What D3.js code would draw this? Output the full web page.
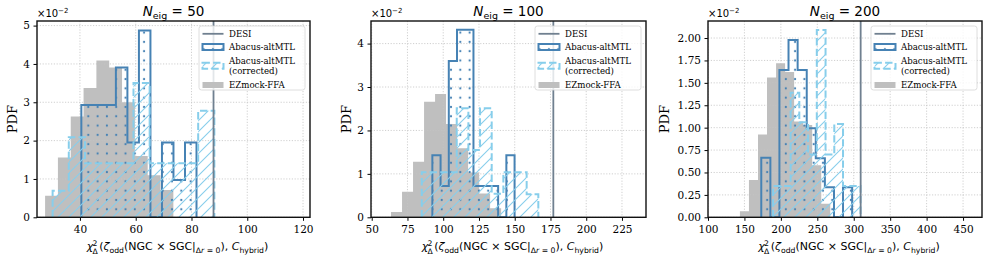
<!DOCTYPE html>
<html>
<head>
<meta charset="utf-8">
<script src="https://cdn.jsdelivr.net/npm/d3@7"></script>
<style>
  body { margin: 0; background: #fff; }
  svg { display: block; }
  text { font-family: "DejaVu Serif", serif; fill: #000; }
</style>
</head>
<body>
<svg id="chart" width="987" height="261"></svg>
<script>
// ---- data (PDF values in units of 1e-2) ----
const titles = ["50", "100", "200"];

const ez1Edges = [27.5, 32.1, 36.7, 41.3, 45.9, 50.5, 55.1, 59.7, 64.3, 68.9, 73.5];
const ez1Pdf = [0.56, 1.56, 2.63, 3.37, 4.09, 3.91, 3.00, 1.60, 1.10, 0.71];
const abacus1Edges = [40.5, 44.63, 48.76, 52.89, 57.02, 61.15, 65.28, 69.41, 73.54, 77.67, 81.8];
const abacus1Pdf = [2.93, 2.93, 2.93, 3.91, 1.95, 4.87, 0, 1.95, 0.97, 1.95];
const corr1Edges = [30.2, 36.0, 41.8, 47.6, 53.4, 59.2, 65.0, 70.8, 76.6, 82.4, 88.2];
const corr1Pdf = [0.69, 2.09, 1.41, 1.41, 1.41, 3.50, 1.41, 1.41, 1.41, 2.78];
const desi1 = 87.9;

const ez2Edges = [63.5, 71.2, 78.9, 86.6, 94.3, 102.0, 109.7, 117.4, 125.1, 132.8, 140.5];
const ez2Pdf = [0.12, 0.59, 1.28, 2.66, 2.84, 2.15, 1.59, 1.03, 0.55, 0.21];
const abacus2Edges = [92.4, 98.15, 103.9, 109.65, 115.4, 121.15, 126.9, 132.65, 138.4, 144.15, 149.9];
const abacus2Pdf = [1.43, 0.72, 3.60, 4.32, 4.32, 0.72, 0.72, 0.72, 0, 1.43];
const corr2Edges = [85.0, 93.15, 101.3, 109.45, 117.6, 125.75, 133.9, 142.05, 150.2, 158.35, 166.5];
const corr2Pdf = [1.04, 1.04, 1.04, 2.51, 1.55, 2.51, 0.54, 1.04, 1.04, 0.53];
const desi2 = 177.0;

const ez3Edges = [143.8, 156.2, 168.6, 181.0, 193.4, 205.8, 218.2, 230.6, 243.0, 255.4, 267.8];
const ez3Pdf = [0.067, 0.416, 0.925, 1.56, 1.72, 1.62, 1.07, 1.03, 0.58, 0.15];
const abacus3Edges = [173.1, 185.6, 198.0, 210.5, 223.0, 235.5, 247.9, 260.4, 272.9, 285.3, 297.8];
const abacus3Pdf = [0.665, 0, 1.643, 1.978, 1.643, 0.993, 0.658, 0.335, 0, 0.335];
const corr3Edges = [189.3, 201.3, 213.3, 225.3, 237.3, 249.3, 261.3, 273.3, 285.3, 297.3, 309.3];
const corr3Pdf = [0.35, 0.35, 1.39, 1.06, 0.70, 2.09, 0.70, 1.04, 0.35, 0.35];
const desi3 = 309.5;

const xTicks1 = [40, 60, 80, 100, 120];
const xTicks2 = [50, 75, 100, 125, 150, 175, 200, 225];
const xTicks3 = [100, 150, 200, 250, 300, 350, 400, 450];
const yTicks1 = [0, 1, 2, 3, 4, 5];
const yTicks2 = [0, 1, 2, 3, 4];
const yTicks3 = [0, 0.25, 0.5, 0.75, 1.0, 1.25, 1.5, 1.75, 2.0];

const legendLabels = ["DESI", "Abacus-altMTL", ["Abacus-altMTL", "(corrected)"], "EZmock-FFA"];

// ---- styling ----
const abacusColor = "#4682b4";
const corrColor = "#87ceeb";
const desiColor = "#708090";
const ezColor = "#bfbfbf";

const TOP = 21, BOTTOM = 217.3;

const panels = [
  { title: titles[0], left: 37, right: 310, xDomain: [24.6, 122.5], yDomain: [0, 5.12], ylabOff: 25,
    xTicks: xTicks1, yTicks: yTicks1, yFmt: d3.format("d"),
    ez: [ez1Edges, ez1Pdf], abacus: [abacus1Edges, abacus1Pdf], corr: [corr1Edges, corr1Pdf], desi: desi1 },
  { title: titles[1], left: 371, right: 646, xDomain: [49.5, 241.8], yDomain: [0, 4.52], ylabOff: 24.5,
    xTicks: xTicks2, yTicks: yTicks2, yFmt: d3.format("d"),
    ez: [ez2Edges, ez2Pdf], abacus: [abacus2Edges, abacus2Pdf], corr: [corr2Edges, corr2Pdf], desi: desi2 },
  { title: titles[2], left: 708, right: 982, xDomain: [100, 476], yDomain: [0, 2.19], ylabOff: 44,
    xTicks: xTicks3, yTicks: yTicks3, yFmt: d3.format(".2f"),
    ez: [ez3Edges, ez3Pdf], abacus: [abacus3Edges, abacus3Pdf], corr: [corr3Edges, corr3Pdf], desi: desi3 }
];

const svg = d3.select("#chart");
const defs = svg.append("defs");

// hatch patterns
const dotPat = defs.append("pattern").attr("id", "dots")
  .attr("patternUnits", "userSpaceOnUse").attr("width", 9.3).attr("height", 9.3);
dotPat.append("circle").attr("cx", 4.6).attr("cy", 4.6).attr("r", 1.1).attr("fill", abacusColor);

const diagPat = defs.append("pattern").attr("id", "diag")
  .attr("patternUnits", "userSpaceOnUse").attr("width", 11).attr("height", 11);
diagPat.append("path").attr("d", "M-3,3 L3,-3 M0,11 L11,0 M8,14 L14,8")
  .attr("stroke", corrColor).attr("stroke-width", 1.1);

function stepPoints(edges, vals) {
  const pts = [[edges[0], 0]];
  vals.forEach((v, i) => { pts.push([edges[i], v]); pts.push([edges[i + 1], v]); });
  pts.push([edges[edges.length - 1], 0]);
  return pts;
}

function drawPanel(p, idx) {
  const x = d3.scaleLinear().domain(p.xDomain).range([p.left, p.right]);
  const y = d3.scaleLinear().domain(p.yDomain).range([BOTTOM, TOP]);
  const g = svg.append("g");

  defs.append("clipPath").attr("id", "clip" + idx)
    .append("rect").attr("x", p.left).attr("y", TOP)
    .attr("width", p.right - p.left).attr("height", BOTTOM - TOP);

  const plot = g.append("g").attr("clip-path", `url(#clip${idx})`);
  const line = d3.line().x(d => x(d[0])).y(d => y(d[1]));

  // EZmock filled
  plot.append("path").attr("d", line(stepPoints(...p.ez)) + "Z").attr("fill", ezColor);

  // grid
  const grid = plot.append("g").attr("stroke", "#c4c4c4").attr("stroke-width", 0.8)
    .attr("stroke-dasharray", "1.2,1.6");
  grid.selectAll(".gx").data(p.xTicks).join("line")
    .attr("x1", d => x(d)).attr("x2", d => x(d)).attr("y1", TOP).attr("y2", BOTTOM);
  grid.selectAll(".gy").data(p.yTicks).join("line")
    .attr("x1", p.left).attr("x2", p.right).attr("y1", d => y(d)).attr("y2", d => y(d));

  // Abacus-altMTL (dots)
  const abPts = stepPoints(...p.abacus);
  plot.append("path").attr("d", line(abPts) + "Z").attr("fill", "url(#dots)");
  plot.append("path").attr("d", line(abPts)).attr("fill", "none")
    .attr("stroke", abacusColor).attr("stroke-width", 2).attr("stroke-linejoin", "miter");

  // corrected (dashed, hatched)
  const coPts = stepPoints(...p.corr);
  plot.append("path").attr("d", line(coPts) + "Z").attr("fill", "url(#diag)");
  plot.append("path").attr("d", line(coPts)).attr("fill", "none")
    .attr("stroke", corrColor).attr("stroke-width", 2).attr("stroke-dasharray", "7.4,3.2");

  // DESI
  plot.append("line").attr("x1", x(p.desi)).attr("x2", x(p.desi)).attr("y1", TOP).attr("y2", BOTTOM)
    .attr("stroke", desiColor).attr("stroke-width", 1.8);

  // axes
  const xAxis = g.append("g").attr("transform", `translate(0,${BOTTOM})`)
    .call(d3.axisBottom(x).tickValues(p.xTicks).tickSize(3.5).tickPadding(5).tickFormat(d3.format("d")));
  const yAxis = g.append("g").attr("transform", `translate(${p.left},0)`)
    .call(d3.axisLeft(y).tickValues(p.yTicks).tickSize(3.5).tickPadding(3.5).tickFormat(p.yFmt));
  [xAxis, yAxis].forEach(a => {
    a.select(".domain").remove();
    a.selectAll("text").style("font-family", "DejaVu Serif").style("font-size", "10.5px");
    a.selectAll("line").attr("stroke", "#000").attr("stroke-width", 1);
  });

  // spines
  g.append("rect").attr("x", p.left).attr("y", TOP)
    .attr("width", p.right - p.left).attr("height", BOTTOM - TOP)
    .attr("fill", "none").attr("stroke", "#111").attr("stroke-width", 1.4);

  // title
  const cx = (p.left + p.right) / 2;
  const t = g.append("text").attr("x", cx).attr("y", 16).attr("text-anchor", "middle")
    .style("font-family", "DejaVu Sans").style("font-size", "13.5px");
  t.append("tspan").style("font-style", "italic").text("N");
  t.append("tspan").attr("dy", 3).style("font-size", "9.5px").text("eig");
  t.append("tspan").attr("dy", -3).text(" = " + p.title);

  // offset text
  const o = g.append("text").attr("x", p.left).attr("y", 17)
    .style("font-family", "DejaVu Sans").style("font-size", "10px");
  o.append("tspan").text("×10");
  o.append("tspan").attr("dy", -4).style("font-size", "7px").text("−2");

  // y label
  g.append("text").attr("transform", `translate(${p.left - p.ylabOff},${(TOP + BOTTOM) / 2}) rotate(-90)`)
    .attr("text-anchor", "middle").attr("dy", "0.35em").style("font-size", "13px").text("PDF");

  // x label: sup/sub stacked as separate texts so they do not share a box
  const xg = g.append("g");
  const xl = xg.append("text").attr("x", cx + 4).attr("y", 250).attr("text-anchor", "middle")
    .style("font-family", "DejaVu Sans").style("font-size", "11px");
  xl.append("tspan").style("font-style", "italic").text("χ");
  xl.append("tspan").attr("dx", 6).text("(");
  xl.append("tspan").style("font-style", "italic").text("ζ");
  xl.append("tspan").attr("dy", 3).style("font-size", "7.7px").text("odd");
  xl.append("tspan").attr("dy", -3).text("(NGC × SGC|");
  xl.append("tspan").attr("dy", 3).style("font-size", "7.7px").text("Δ");
  xl.append("tspan").style("font-size", "7.7px").style("font-style", "italic").text("r");
  xl.append("tspan").style("font-size", "7.7px").text(" = 0");
  xl.append("tspan").attr("dy", -3).text("), ");
  xl.append("tspan").style("font-style", "italic").text("C");
  xl.append("tspan").attr("dy", 3).style("font-size", "7.7px").text("hybrid");
  xl.append("tspan").attr("dy", -3).text(")");
  const bb = xl.node().getBBox();
  const chiW = xl.node().getSubStringLength(0, 1);
  xg.append("text").attr("x", bb.x + chiW + 0.3).attr("y", 245.5)
    .style("font-family", "DejaVu Sans").style("font-size", "7.7px").text("2");
  xg.append("text").attr("x", bb.x + chiW + 0.3).attr("y", 253.5)
    .style("font-family", "DejaVu Sans").style("font-size", "7.7px").text("Δ");

  // legend
  const lw = 106, lh = 64;
  const lx = p.right - 5 - lw, ly = TOP + 5;
  const lg = g.append("g").attr("transform", `translate(${lx},${ly})`);
  lg.append("rect").attr("width", lw).attr("height", lh).attr("rx", 2.5)
    .attr("fill", "#fff").attr("fill-opacity", 0.8).attr("stroke", "#d6d6d6").attr("stroke-width", 0.8);
  const hx = 3.5, hw = 21, hh = 6, tx = 30;
  const rows = [7.8, 21, 39.8, 59];
  lg.append("line").attr("x1", hx).attr("x2", hx + hw).attr("y1", rows[0]).attr("y2", rows[0])
    .attr("stroke", desiColor).attr("stroke-width", 1.8);
  lg.append("rect").attr("x", hx).attr("y", rows[1] - hh / 2).attr("width", hw).attr("height", hh)
    .attr("fill", "url(#dots)").attr("stroke", abacusColor).attr("stroke-width", 2);
  lg.append("rect").attr("x", hx).attr("y", rows[2] - hh / 2).attr("width", hw).attr("height", hh)
    .attr("fill", "url(#diag)").attr("stroke", corrColor).attr("stroke-width", 2)
    .attr("stroke-dasharray", "7.4,3.2");
  lg.append("rect").attr("x", hx).attr("y", rows[3] - hh / 2).attr("width", hw).attr("height", hh)
    .attr("fill", ezColor);
  legendLabels.forEach((lab, i) => {
    const tt = lg.append("text").attr("x", tx).style("font-size", "8.6px");
    if (Array.isArray(lab)) {
      tt.attr("y", rows[i] - 5 + 3).text(lab[0]);
      lg.append("text").attr("x", tx).attr("y", rows[i] + 5 + 3).style("font-size", "8.6px").text(lab[1]);
    } else {
      tt.attr("y", rows[i] + 3).text(lab);
    }
  });
}

panels.forEach(drawPanel);
</script>
</body>
</html>
